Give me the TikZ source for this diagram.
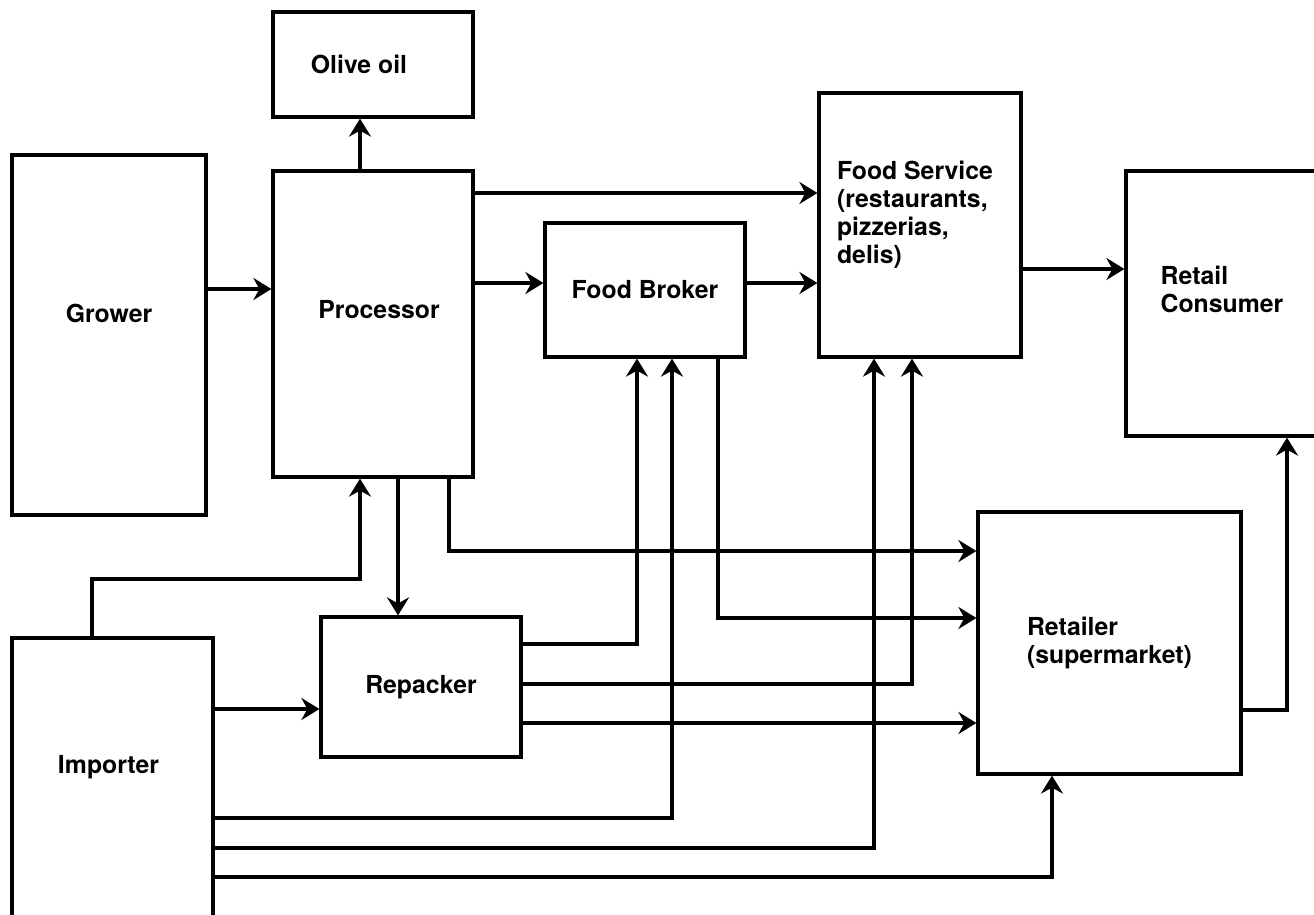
\documentclass[tikz,border=0pt]{standalone}
\usepackage{fontspec}
\setmainfont{TeX Gyre Heros}
\usetikzlibrary{arrows.meta,positioning}

\begin{document}
\begin{tikzpicture}[x=0.5pt, y=-0.5pt, line width=1.6pt,
    txt/.style={font=\fontsize{12.4}{14}\selectfont\bfseries, align=left},
    box/.style={draw, rectangle, inner sep=0pt, txt},
    lbl/.style={txt, inner sep=0pt},
    arr/.style={-{Stealth[length=9pt, width=11pt, inset=3pt]}}]
    % Same canvas as the scanned chart (one unit = one pixel)
    \useasboundingbox (0,0) rectangle (1314,915);

    % Boxes of the supply chain
    \node[box, minimum width=100pt, minimum height=52.5pt,
          label={[lbl, xshift=-7pt]center:Olive oil}] (olive) at (373,64.5) {};
    \node[box, minimum width=97pt, minimum height=180pt,
          label={[lbl, yshift=11pt]center:Grower}] (grower) at (109,335) {};
    \node[box, minimum width=100pt, minimum height=153pt,
          label={[lbl, xshift=3pt, yshift=7pt]center:Processor}] (proc) at (373,324) {};
    \node[box, minimum width=100pt, minimum height=67pt] (broker) at (645,290) {Food Broker};
    \node[box, minimum width=101pt, minimum height=132pt,
          label={[lbl, xshift=-2.5pt, yshift=5pt]center:Food Service\\(restaurants,\\pizzerias,\\delis)}] (service) at (920,225) {};
    \node[box, minimum width=102pt, minimum height=132.5pt,
          label={[lbl, xshift=-3pt, yshift=7pt]center:Retail\\Consumer}] (consumer) at (1228,303.5) {};
    \node[box, minimum width=131.5pt, minimum height=131pt] (retailer) at (1109.5,643) {Retailer\\(supermarket)};
    \node[box, minimum width=100pt, minimum height=70pt] (repack) at (421,687) {Repacker};
    \node[box, minimum width=100.5pt, minimum height=161pt,
          label={[lbl, xshift=-2pt, yshift=16pt]center:Importer}] (importer) at (112.5,799) {};

    % Flows out of grower and processor
    \draw[arr] (grower.east |- 0,289) -- (proc.west |- 0,289);
    \draw[arr] (proc.north -| 360,0) -- (olive.south -| 360,0);
    \draw[arr] (proc.east |- 0,193) -- (service.west |- 0,193);
    \draw[arr] (proc.east |- 0,283) -- (broker.west |- 0,283);
    \draw[arr] (proc.south -| 398,0) -- (repack.north -| 398,0);
    \draw[arr] (proc.south -| 449,0) |- (retailer.west |- 0,551);

    % Broker and food service
    \draw[arr] (broker.east |- 0,283) -- (service.west |- 0,283);
    \draw[arr] (broker.south -| 718,0) |- (retailer.west |- 0,618);
    \draw[arr] (service.east |- 0,269) -- (consumer.west |- 0,269);

    % Repacker
    \draw[arr] (repack.east |- 0,644) -| (broker.south -| 637,0);
    \draw[arr] (repack.east |- 0,684) -| (service.south -| 912,0);
    \draw[arr] (repack.east |- 0,723) -- (retailer.west |- 0,723);

    % Importer
    \draw[arr] (importer.north -| 92,0) -- (92,579) -| (proc.south -| 360,0);
    \draw[arr] (importer.east |- 0,709) -- (repack.west |- 0,709);
    \draw[arr] (importer.east |- 0,818) -| (broker.south -| 672,0);
    \draw[arr] (importer.east |- 0,848) -| (service.south -| 874,0);
    \draw[arr] (importer.east |- 0,877) -| (retailer.south -| 1052,0);

    % Retailer to consumer
    \draw[arr] (retailer.east |- 0,710) -| (consumer.south -| 1287,0);
  \end{tikzpicture}
\end{document}
